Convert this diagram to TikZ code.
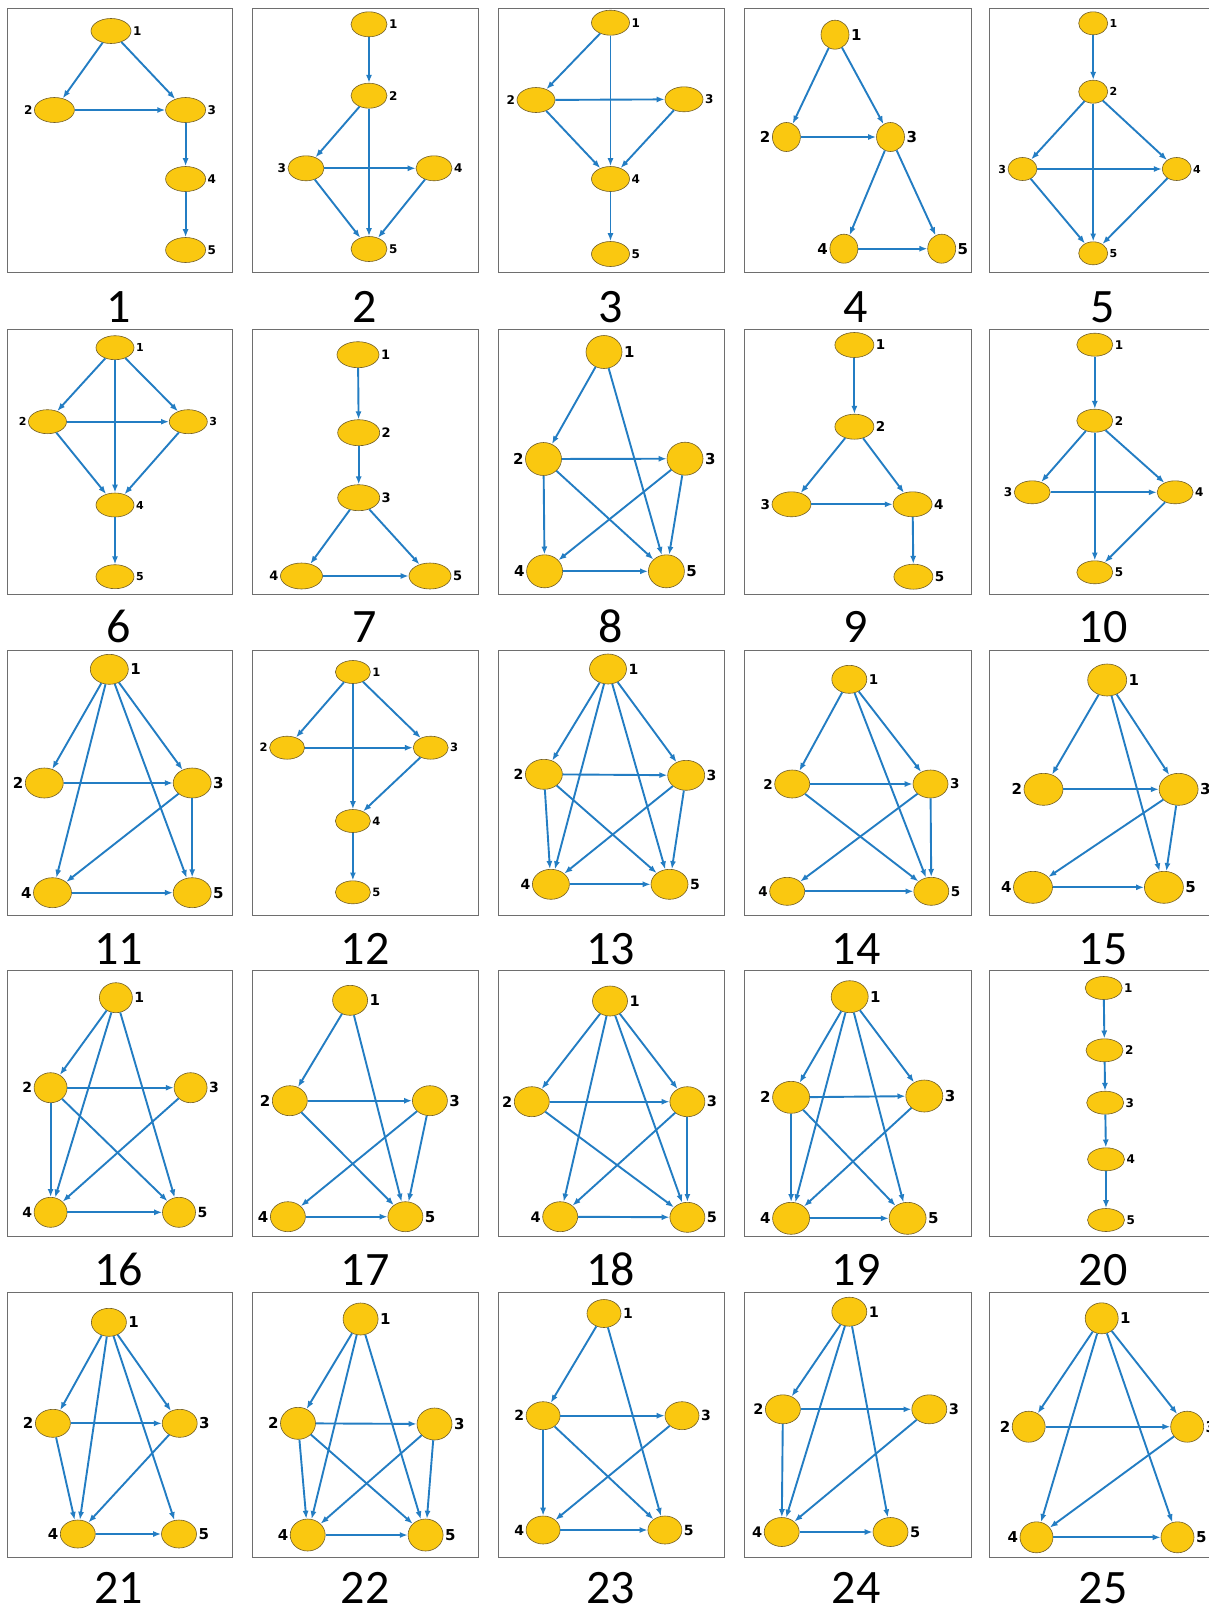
\documentclass[tikz,border=0pt]{standalone}
\usepackage{fontspec}
\setmainfont{Carlito}
\newfontfamily\nlf{DejaVu Sans}
\usetikzlibrary{shapes.geometric,arrows.meta}
\definecolor{ndfill}{RGB}{250,200,16}
\definecolor{ndline}{RGB}{115,95,40}
\definecolor{edblue}{RGB}{35,125,195}
\definecolor{boxgray}{RGB}{110,110,110}
\def\ndw{40pt}\def\ndh{25pt}\def\lsz{12}
\newcommand\gnode[4]{\node[nd,label={[lb]#4:#2}] (#1n#2) at (#3) {};}
\tikzset{
  nd/.style={ellipse,draw=ndline,fill=ndfill,line width=0.6pt,inner sep=0pt,minimum width=\ndw,minimum height=\ndh},
  lb/.style={font={\nlf\bfseries\fontsize{\lsz}{\lsz}\selectfont},inner sep=0pt,text=black},
  ed/.style={draw=edblue,line width=1.9pt,-{Latex[length=8pt,width=6pt]}},
  panelbox/.style={draw=boxgray,line width=0.9pt},
  ttl/.style={font=\fontsize{48}{48}\selectfont,anchor=base,inner sep=0pt}
}
\begin{document}
\begin{tikzpicture}[x=1pt,y=-1pt,label distance=1.5pt]
\useasboundingbox (0,0) rectangle (1209,1612);
\fill[white] (0,0) rectangle (1209,1612);
% panel boxes
\foreach \ya/\yb in {8.3/272.7,329.3/594,650.7/915.3,970.5/1236.5,1292/1557.7}{
  \foreach \xa/\xb in {7/232,252/478.5,498/724,744/971,989.5/1215}{
    \draw[panelbox] (\xa,\ya) rectangle (\xb,\yb);
  }
}
% titles
\node[ttl] (t1) at (118.4,322) {1};
\node[ttl] (t2) at (365,322) {2};
\node[ttl] (t3) at (610.6,322) {3};
\node[ttl] (t4) at (856,322) {4};
\node[ttl] (t5) at (1103,322) {5};
\node[ttl] (t6) at (118.4,642) {6};
\node[ttl] (t7) at (365,642) {7};
\node[ttl] (t8) at (610.6,642) {8};
\node[ttl] (t9) at (856,642) {9};
\node[ttl] (t10) at (1103,642) {10};
\node[ttl] (t11) at (118.4,964) {11};
\node[ttl] (t12) at (365,964) {12};
\node[ttl] (t13) at (610.6,964) {13};
\node[ttl] (t14) at (856,964) {14};
\node[ttl] (t15) at (1103,964) {15};
\node[ttl] (t16) at (118.4,1285) {16};
\node[ttl] (t17) at (365,1285) {17};
\node[ttl] (t18) at (610.6,1285) {18};
\node[ttl] (t19) at (856,1285) {19};
\node[ttl] (t20) at (1103,1285) {20};
\node[ttl] (t21) at (118.4,1603) {21};
\node[ttl] (t22) at (365,1603) {22};
\node[ttl] (t23) at (610.6,1603) {23};
\node[ttl] (t24) at (856,1603) {24};
\node[ttl] (t25) at (1103,1603) {25};
% ---- panel 1
\def\ndw{40pt}\def\ndh{25pt}\def\lsz{12}
\gnode{p1}{1}{111,31}{right}
\gnode{p1}{2}{54.4,110}{left}
\gnode{p1}{3}{185.6,110}{right}
\gnode{p1}{4}{185.6,179}{right}
\gnode{p1}{5}{185.6,250}{right}
\foreach \s/\t in {1/2,1/3,2/3,3/4,4/5} \draw[ed] (p1n\s) -- (p1n\t);
% ---- panel 2
\def\ndw{36pt}\def\ndh{25pt}\def\lsz{12}
\gnode{p2}{1}{369,24.3}{right}
\gnode{p2}{2}{369,95.7}{right}
\gnode{p2}{3}{306,168.3}{left}
\gnode{p2}{4}{434,168.3}{right}
\gnode{p2}{5}{369,249}{right}
\foreach \s/\t in {1/2,2/3,2/5,3/4,3/5,4/5} \draw[ed] (p2n\s) -- (p2n\t);
% ---- panel 3
\def\ndw{38pt}\def\ndh{25pt}\def\lsz{12}
\gnode{p3}{1}{610.5,22.7}{right}
\gnode{p3}{2}{536,100}{left}
\gnode{p3}{3}{684,99.3}{right}
\gnode{p3}{4}{610.5,179}{right}
\gnode{p3}{5}{610.5,254}{right}
\foreach \s/\t in {1/2,1/4,2/3,2/4,3/4,4/5} \draw[ed] (p3n\s) -- (p3n\t);
% ---- panel 4
\def\ndw{28pt}\def\ndh{29pt}\def\lsz{15}
\gnode{p4}{1}{835,34.7}{right}
\gnode{p4}{2}{786.4,137}{left}
\gnode{p4}{3}{890.5,137}{right}
\gnode{p4}{4}{843.9,248.7}{left}
\gnode{p4}{5}{941.7,248.7}{right}
\foreach \s/\t in {1/2,1/3,2/3,3/4,3/5,4/5} \draw[ed] (p4n\s) -- (p4n\t);
% ---- panel 5
\def\ndw{29pt}\def\ndh{23pt}\def\lsz{11}
\gnode{p5}{1}{1093.2,23.3}{right}
\gnode{p5}{2}{1093.2,91.7}{right}
\gnode{p5}{3}{1022.5,169}{left}
\gnode{p5}{4}{1176.7,169}{right}
\gnode{p5}{5}{1093.2,253.3}{right}
\foreach \s/\t in {1/2,2/3,2/4,2/5,3/4,3/5,4/5} \draw[ed] (p5n\s) -- (p5n\t);
% ---- panel 6
\def\ndw{38pt}\def\ndh{24pt}\def\lsz{11}
\gnode{p6}{1}{115,347.7}{right}
\gnode{p6}{2}{47.5,421.7}{left}
\gnode{p6}{3}{188.3,421.7}{right}
\gnode{p6}{4}{115,505}{right}
\gnode{p6}{5}{115,576.7}{right}
\foreach \s/\t in {1/2,1/3,1/4,2/3,2/4,3/4,4/5} \draw[ed] (p6n\s) -- (p6n\t);
% ---- panel 7
\def\ndw{42pt}\def\ndh{26pt}\def\lsz{13}
\gnode{p7}{1}{358,354.7}{right}
\gnode{p7}{2}{358.7,432.7}{right}
\gnode{p7}{3}{358.7,497.7}{right}
\gnode{p7}{4}{301.5,576}{left}
\gnode{p7}{5}{430,576}{right}
\foreach \s/\t in {1/2,2/3,3/4,3/5,4/5} \draw[ed] (p7n\s) -- (p7n\t);
% ---- panel 8
\def\ndw{36pt}\def\ndh{33pt}\def\lsz{15}
\gnode{p8}{1}{604,352}{right}
\gnode{p8}{2}{543.5,459}{left}
\gnode{p8}{3}{685,458.7}{right}
\gnode{p8}{4}{544.6,571.3}{left}
\gnode{p8}{5}{666.4,571.3}{right}
\foreach \s/\t in {1/2,1/5,2/3,2/4,2/5,3/4,3/5,4/5} \draw[ed] (p8n\s) -- (p8n\t);
% ---- panel 9
\def\ndw{39pt}\def\ndh{25pt}\def\lsz{13.5}
\gnode{p9}{1}{854.4,345}{right}
\gnode{p9}{2}{854.4,426.7}{right}
\gnode{p9}{3}{791.5,504.3}{left}
\gnode{p9}{4}{912.6,504.3}{right}
\gnode{p9}{5}{913.4,576.7}{right}
\foreach \s/\t in {1/2,2/3,2/4,3/4,4/5} \draw[ed] (p9n\s) -- (p9n\t);
% ---- panel 10
\def\ndw{36pt}\def\ndh{23pt}\def\lsz{12}
\gnode{p10}{1}{1094.8,344.7}{right}
\gnode{p10}{2}{1094.8,420.7}{right}
\gnode{p10}{3}{1032.2,492.3}{left}
\gnode{p10}{4}{1175.1,492.3}{right}
\gnode{p10}{5}{1094.8,572.3}{right}
\foreach \s/\t in {1/2,2/3,2/4,2/5,3/4,4/5} \draw[ed] (p10n\s) -- (p10n\t);
% ---- panel 11
\def\ndw{38pt}\def\ndh{30pt}\def\lsz{15}
\gnode{p11}{1}{109.3,669.3}{right}
\gnode{p11}{2}{44.3,783}{left}
\gnode{p11}{3}{192.2,783}{right}
\gnode{p11}{4}{52.5,892.7}{left}
\gnode{p11}{5}{192.2,892.7}{right}
\foreach \s/\t in {1/2,1/3,1/4,1/5,2/3,3/4,3/5,4/5} \draw[ed] (p11n\s) -- (p11n\t);
% ---- panel 12
\def\ndw{35pt}\def\ndh{23pt}\def\lsz{11.5}
\gnode{p12}{1}{352.9,672}{right}
\gnode{p12}{2}{287.1,747.7}{left}
\gnode{p12}{3}{430.7,747.7}{right}
\gnode{p12}{4}{352.9,821}{right}
\gnode{p12}{5}{352.9,892.3}{right}
\foreach \s/\t in {1/2,1/3,1/4,2/3,3/4,4/5} \draw[ed] (p12n\s) -- (p12n\t);
% ---- panel 13
\def\ndw{37pt}\def\ndh{30pt}\def\lsz{14}
\gnode{p13}{1}{608,669}{right}
\gnode{p13}{2}{543.9,774.3}{left}
\gnode{p13}{3}{686.2,775.3}{right}
\gnode{p13}{4}{550.9,884.3}{left}
\gnode{p13}{5}{669.5,884.3}{right}
\foreach \s/\t in {1/2,1/3,1/4,1/5,2/3,2/4,2/5,3/4,3/5,4/5} \draw[ed] (p13n\s) -- (p13n\t);
% ---- panel 14
\def\ndw{35pt}\def\ndh{28pt}\def\lsz{13.5}
\gnode{p14}{1}{849.3,679.3}{right}
\gnode{p14}{2}{792.2,784}{left}
\gnode{p14}{3}{930.5,784}{right}
\gnode{p14}{4}{787.2,891.3}{left}
\gnode{p14}{5}{931.3,891.3}{right}
\foreach \s/\t in {1/2,1/3,1/5,2/3,2/5,3/4,3/5,4/5} \draw[ed] (p14n\s) -- (p14n\t);
% ---- panel 15
\def\ndw{39pt}\def\ndh{32pt}\def\lsz{15}
\gnode{p15}{1}{1107.2,680}{right}
\gnode{p15}{2}{1043.5,789.3}{left}
\gnode{p15}{3}{1178.6,789.3}{right}
\gnode{p15}{4}{1033,887.3}{left}
\gnode{p15}{5}{1163.9,887.3}{right}
\foreach \s/\t in {1/2,1/3,1/5,2/3,3/4,3/5,4/5} \draw[ed] (p15n\s) -- (p15n\t);
% ---- panel 16
\def\ndw{33pt}\def\ndh{30pt}\def\lsz{14}
\gnode{p16}{1}{115.9,997.7}{right}
\gnode{p16}{2}{50.6,1087.7}{left}
\gnode{p16}{3}{190.6,1087.7}{right}
\gnode{p16}{4}{50.6,1212.3}{left}
\gnode{p16}{5}{179,1212.3}{right}
\foreach \s/\t in {1/2,1/4,1/5,2/3,2/4,2/5,3/4,4/5} \draw[ed] (p16n\s) -- (p16n\t);
% ---- panel 17
\def\ndw{35pt}\def\ndh{30pt}\def\lsz{15}
\gnode{p17}{1}{350.1,1000.3}{right}
\gnode{p17}{2}{289.8,1100.7}{left}
\gnode{p17}{3}{429.9,1100.7}{right}
\gnode{p17}{4}{287.9,1216.7}{left}
\gnode{p17}{5}{405.4,1216.7}{right}
\foreach \s/\t in {1/2,1/5,2/3,2/5,3/4,3/5,4/5} \draw[ed] (p17n\s) -- (p17n\t);
% ---- panel 18
\def\ndw{35pt}\def\ndh{30pt}\def\lsz{14.5}
\gnode{p18}{1}{610,1001}{right}
\gnode{p18}{2}{531.8,1101.7}{left}
\gnode{p18}{3}{687.4,1101.7}{right}
\gnode{p18}{4}{560.2,1216.7}{left}
\gnode{p18}{5}{687.4,1217.3}{right}
\foreach \s/\t in {1/2,1/3,1/4,1/5,2/3,2/5,3/4,3/5,4/5} \draw[ed] (p18n\s) -- (p18n\t);
% ---- panel 19
\def\ndw{37pt}\def\ndh{32pt}\def\lsz{15}
\gnode{p19}{1}{849.7,996.7}{right}
\gnode{p19}{2}{791.1,1097.3}{left}
\gnode{p19}{3}{924.3,1096}{right}
\gnode{p19}{4}{791.1,1218.3}{left}
\gnode{p19}{5}{907.6,1218.3}{right}
\foreach \s/\t in {1/2,1/3,1/4,1/5,2/3,2/4,2/5,3/4,4/5} \draw[ed] (p19n\s) -- (p19n\t);
% ---- panel 20
\def\ndw{37pt}\def\ndh{23pt}\def\lsz{12}
\gnode{p20}{1}{1103.7,988}{right}
\gnode{p20}{2}{1104.5,1050.3}{right}
\gnode{p20}{3}{1105.2,1102.7}{right}
\gnode{p20}{4}{1106,1159.3}{right}
\gnode{p20}{5}{1106,1220}{right}
\foreach \s/\t in {1/2,2/3,3/4,4/5} \draw[ed] (p20n\s) -- (p20n\t);
% ---- panel 21
\def\ndw{35pt}\def\ndh{28pt}\def\lsz{15}
\gnode{p21}{1}{108.9,1322.3}{right}
\gnode{p21}{2}{52.9,1423.3}{left}
\gnode{p21}{3}{179.7,1423.3}{right}
\gnode{p21}{4}{77.8,1534}{left}
\gnode{p21}{5}{179,1534}{right}
\foreach \s/\t in {1/2,1/3,1/4,1/5,2/3,2/4,3/4,4/5} \draw[ed] (p21n\s) -- (p21n\t);
% ---- panel 22
\def\ndw{35pt}\def\ndh{32pt}\def\lsz{15}
\gnode{p22}{1}{360.6,1319}{right}
\gnode{p22}{2}{298,1423.3}{left}
\gnode{p22}{3}{434.5,1424}{right}
\gnode{p22}{4}{307.7,1535}{left}
\gnode{p22}{5}{425.6,1535}{right}
\foreach \s/\t in {1/2,1/4,1/5,2/3,2/4,2/5,3/4,3/5,4/5} \draw[ed] (p22n\s) -- (p22n\t);
% ---- panel 23
\def\ndw{34pt}\def\ndh{28pt}\def\lsz{14}
\gnode{p23}{1}{604,1313.5}{right}
\gnode{p23}{2}{543.1,1415.7}{left}
\gnode{p23}{3}{682,1415.7}{right}
\gnode{p23}{4}{543.1,1530}{left}
\gnode{p23}{5}{664.9,1530}{right}
\foreach \s/\t in {1/2,1/5,2/3,2/4,2/5,3/4,4/5} \draw[ed] (p23n\s) -- (p23n\t);
% ---- panel 24
\def\ndw{35pt}\def\ndh{29pt}\def\lsz{14.5}
\gnode{p24}{1}{849.3,1311.7}{right}
\gnode{p24}{2}{782.9,1409.3}{left}
\gnode{p24}{3}{929.3,1409.3}{right}
\gnode{p24}{4}{781.7,1532}{left}
\gnode{p24}{5}{890.5,1532}{right}
\foreach \s/\t in {1/2,1/4,1/5,2/3,2/4,3/4,4/5} \draw[ed] (p24n\s) -- (p24n\t);
% ---- panel 25
\def\ndw{33pt}\def\ndh{31pt}\def\lsz{15}
\gnode{p25}{1}{1101.7,1318.3}{right}
\gnode{p25}{2}{1028.7,1426.7}{left}
\gnode{p25}{3}{1187.2,1426.7}{right}
\gnode{p25}{4}{1036.5,1537.3}{left}
\gnode{p25}{5}{1177.5,1537.3}{right}
\foreach \s/\t in {1/2,1/3,1/4,1/5,2/3,3/4,4/5} \draw[ed] (p25n\s) -- (p25n\t);
\end{tikzpicture}
\end{document}
